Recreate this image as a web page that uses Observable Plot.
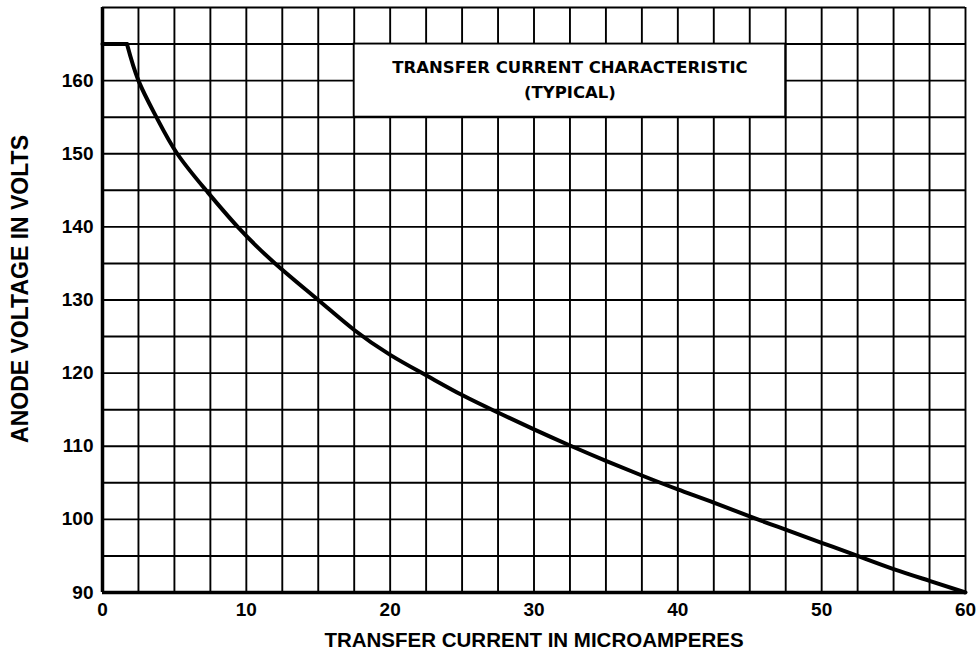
<!DOCTYPE html>
<html>
<head>
<meta charset="utf-8">
<script src="https://cdn.jsdelivr.net/npm/d3@7"></script>
<script src="https://cdn.jsdelivr.net/npm/@observablehq/plot@0.6"></script>
<style>
  html, body { margin: 0; padding: 0; background: #fff; }
</style>
</head>
<body>
<div id="chart"></div>
<script>
// Transfer current (µA) vs anode voltage (V)
const flatCurrentUA = [0, 1.7];
const flatAnodeV    = [165, 165];
const currentUA = [1.7, 2.5, 3.75, 5.2, 7.2, 9.4, 12.0, 15, 17.5, 20, 22.5, 25, 27.5, 30, 32.5, 35, 37.5, 40, 42.5, 45, 47.5, 50, 52.5, 55, 57.5, 60];
const anodeV    = [165, 160, 155, 150, 145, 140, 135, 130, 125.9, 122.5, 119.7, 117, 114.6, 112.3, 110.1, 108, 106, 104.1, 102.3, 100.4, 98.6, 96.8, 95, 93.2, 91.6, 90];

// grid lines
const xGrid = [0, 2.5, 5, 7.5, 10, 12.5, 15, 17.5, 20, 22.5, 25, 27.5, 30, 32.5, 35, 37.5, 40, 42.5, 45, 47.5, 50, 52.5, 55, 57.5, 60];
const yGrid = [90, 95, 100, 105, 110, 115, 120, 125, 130, 135, 140, 145, 150, 155, 160, 165, 170];

// tick labels
const xTicks = [0, 10, 20, 30, 40, 50, 60];
const yTicks = [90, 100, 110, 120, 130, 140, 150, 160];

// title box (in data units)
const boxX = [17.5, 47.5];
const boxY = [155, 165];
const titleLines = ["TRANSFER CURRENT CHARACTERISTIC", "(TYPICAL)"];
const titleLineY = [161.7, 158.4];

const xTitle = "TRANSFER CURRENT IN MICROAMPERES";
const yTitle = "ANODE VOLTAGE IN VOLTS";

const curve = currentUA.map((x, i) => ({x, y: anodeV[i]}));
const flat = flatCurrentUA.map((x, i) => ({x, y: flatAnodeV[i]}));
const box = [{x1: boxX[0], x2: boxX[1], y1: boxY[0], y2: boxY[1]}];
const titles = titleLines.map((t, i) => ({t, x: (boxX[0] + boxX[1]) / 2, y: titleLineY[i]}));

const sans = "Liberation Sans, Arial, sans-serif";
const wide = "DejaVu Sans, Verdana, sans-serif";

const chart = Plot.plot({
  width: 978,
  height: 661,
  marginLeft: 102,
  marginRight: 13,
  marginTop: 7,
  marginBottom: 69,
  style: {fontFamily: sans, fontWeight: "bold", background: "#fff", color: "#000"},
  x: {domain: [0, 60], ticks: xTicks, tickSize: 0, tickPadding: 10, label: null},
  y: {domain: [90, 170], ticks: yTicks, tickSize: 0, tickPadding: 9, label: null},
  marks: [
    Plot.ruleX(xGrid, {stroke: "#000", strokeWidth: 1.9}),
    Plot.ruleY(yGrid, {stroke: "#000", strokeWidth: 1.9}),
    Plot.rect(box, {x1: "x1", x2: "x2", y1: "y1", y2: "y2", fill: "#fff", stroke: "#000", strokeWidth: 1.9}),
    Plot.text(titles, {x: "x", y: "y", text: "t", fontFamily: wide, fontSize: 16.5, fontWeight: "bold", fill: "#000"}),
    Plot.ruleX([0], {stroke: "#000", strokeWidth: 3.5}),
    Plot.ruleY([90], {stroke: "#000", strokeWidth: 3.5}),
    Plot.line(flat, {x: "x", y: "y", stroke: "#000", strokeWidth: 4}),
    Plot.line(curve, {x: "x", y: "y", curve: "natural", stroke: "#000", strokeWidth: 4, strokeLinejoin: "round"}),
    Plot.axisX({ticks: xTicks, tickSize: 0, tickPadding: 10, fontSize: 19, fontWeight: "bold", fill: "#000", label: null}),
    Plot.axisY({ticks: yTicks, tickSize: 0, tickPadding: 9, fontSize: 19, fontWeight: "bold", fill: "#000", label: null}),
    Plot.text([xTitle], {frameAnchor: "bottom", textAnchor: "middle", dy: 54, fontSize: 20.5, fontWeight: "bold", fill: "#000"}),
    Plot.text([yTitle], {frameAnchor: "left", textAnchor: "middle", rotate: -90, dx: -82, dy: -11, fontSize: 23, fontWeight: "bold", fill: "#000"})
  ]
});
document.getElementById("chart").append(chart);
</script>
</body>
</html>
